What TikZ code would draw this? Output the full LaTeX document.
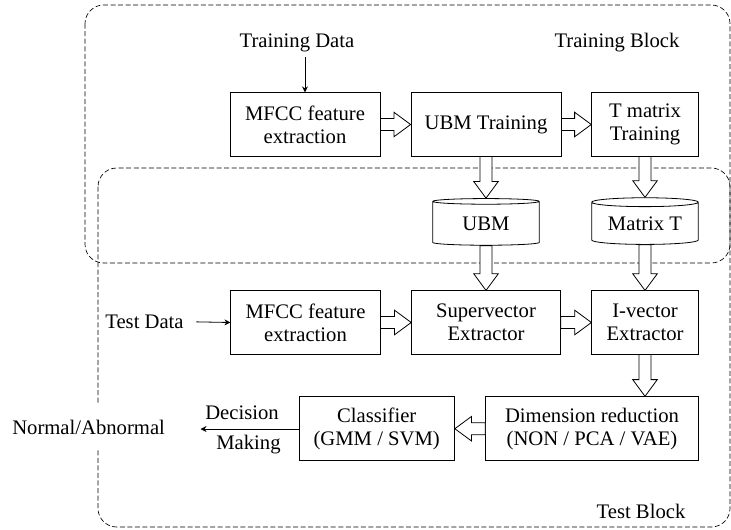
\documentclass[tikz,border=0pt]{standalone}
\usepackage{fontspec}
\setmainfont{Liberation Serif}
\usetikzlibrary{positioning, calc, arrows.meta, shapes.geometric}

\tikzset{
  block/.style={draw, line width=0.6pt, align=center, minimum height=47.5pt, inner sep=1pt},
  store/.style={draw, line width=0.6pt, cylinder, shape border rotate=90, aspect=0.12,
    minimum width=80pt, minimum height=35pt, inner sep=0pt},
  region/.style={draw, line width=0.5pt, dash pattern=on 3.75pt off 1.9pt, rounded corners=14pt},
  thinarrow/.style={-{Stealth[length=4.5pt,width=4.5pt]}, line width=0.6pt},
  fat/.style={draw, fill=white, line width=0.6pt, to path={
    let \p1=(\tikztostart), \p2=(\tikztotarget),
        \n1={atan2(\y2-\y1,\x2-\x1)}, \n2={veclen(\x2-\x1,\y2-\y1)} in
    ($(\p1)+(\n1+90:4.5pt)$) -- ($(\p1)+(\n1:\n2-12.5pt)+(\n1+90:4.5pt)$)
    -- ($(\p1)+(\n1:\n2-12.5pt)+(\n1+90:9.2pt)$) -- (\p2)
    -- ($(\p1)+(\n1:\n2-12.5pt)+(\n1-90:9.2pt)$) -- ($(\p1)+(\n1:\n2-12.5pt)+(\n1-90:4.5pt)$)
    -- ($(\p1)+(\n1-90:4.5pt)$) -- cycle}}
}

\begin{document}
\begin{tikzpicture}[x=0.75pt, y=-0.75pt, font=\fontsize{15.5}{17.5}\selectfont]
  \useasboundingbox (0,0) rectangle (731,529);

  % Blocks
  \draw[region] (85,5) rectangle (730,263);
  \draw[region] (98,168) rectangle (730,527);
  \node (trblk) at (617,43) {Training Block};
  \node (teblk) at (641,511) {Test Block};

  % Training row
  \node (trdata) at (297,43) {Training Data};
  \node[block, minimum width=112.5pt] (trmfcc) at (305,124.5) {MFCC feature\\extraction};
  \node[block, minimum width=112.5pt] (ubmtr) at (486,124.5) {UBM Training};
  \node[block, minimum width=80pt] (ttr) at (645,124.5) {T matrix\\Training};

  % Stored models
  \node[store] (ubm) at (486,223.5) {UBM};
  \node[store] (mat) at (645,223.5) {Matrix T};

  % Test rows
  \node (tedata) at (144.5,321.7) {Test Data};
  \node[block, minimum width=112pt] (temfcc) at (305.5,322.5) {MFCC feature\\extraction};
  \node[block, minimum width=111.6pt] (sup) at (486,322.5) {Supervector\\Extractor};
  \node[block, minimum width=79.8pt] (ivec) at (645,322.5) {I-vector\\Extractor};
  \node[block, minimum width=116.6pt, minimum height=48pt] (cls) at (376.7,428.7) {Classifier\\(GMM / SVM)};
  \node[block, minimum width=159.5pt, minimum height=48pt] (dim) at (592,428.7) {Dimension reduction\\(NON / PCA / VAE)};

  % Output
  \node[fill=white, inner xsep=13pt, inner ysep=12pt] (out) at (88.6,427) {Normal/Abnormal};
  \node (dec) at (242,413) {Decision};
  \node (mak) at (248.5,445) {Making};
  \coordinate (dend) at (200.5,429);

  % Thin arrows
  \draw[thinarrow] (trdata.south -| trmfcc.north) -- (trmfcc.north);
  \draw[thinarrow, shorten <=6pt] (tedata.east) -- (temfcc.west);
  \draw[thinarrow] (cls.west |- dend) -- (dend);

  % Hollow arrows
  \draw[fat] (trmfcc.east) to (ubmtr.west);
  \draw[fat] (ubmtr.east) to (ttr.west);
  \draw[fat] (ubmtr.south) to (ubm.north);
  \draw[fat] (ttr.south) to (mat.north);
  \draw[fat] (ubm.south) to (sup.north);
  \draw[fat] (mat.south) to (ivec.north);
  \draw[fat] (temfcc.east) to (sup.west);
  \draw[fat] (sup.east) to (ivec.west);
  \draw[fat] (ivec.south) to (ivec.south |- dim.north);
  \draw[fat] (dim.west |- cls.east) to (cls.east);
\end{tikzpicture}
\end{document}
